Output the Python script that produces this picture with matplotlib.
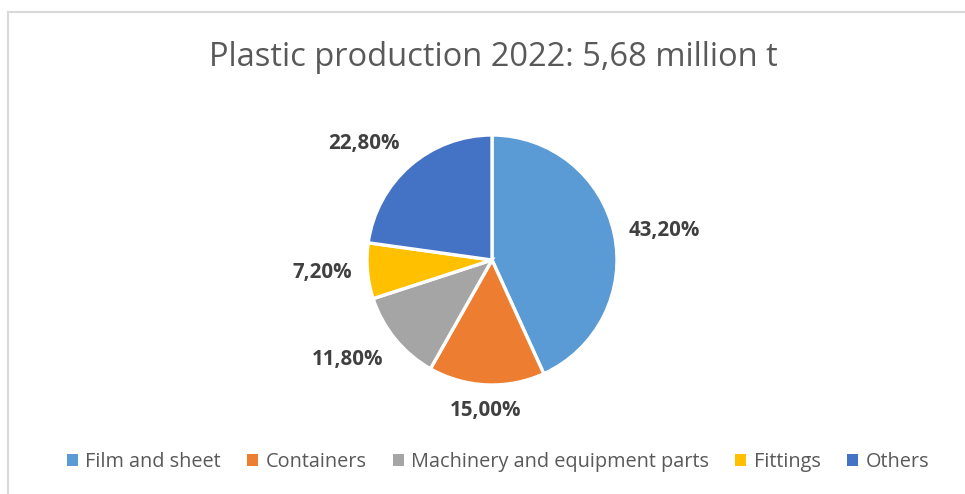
import numpy as np
import matplotlib
matplotlib.use("Agg")
import matplotlib.pyplot as plt
from matplotlib.lines import Line2D
from matplotlib.patches import Rectangle

categories = ["Film and sheet", "Containers", "Machinery and equipment parts", "Fittings", "Others"]
shares = [43.2, 15.0, 11.8, 7.2, 22.8]
value_labels = ["43,20%", "15,00%", "11,80%", "7,20%", "22,80%"]
title = "Plastic production 2022: 5,68 million t"
colors = ["#5B9BD5", "#ED7D31", "#A5A5A5", "#FFC000", "#4472C4"]

FONT = ["Open Sans", "DejaVu Sans"]
W, H = 965, 494
fig = plt.figure(figsize=(W / 100, H / 100), dpi=100)
fig.patch.set_facecolor("white")

# chart border (light gray)
fig.add_artist(Line2D([8 / W, 1], [1 - 12 / H, 1 - 12 / H], color="#D9D9D9", lw=1.5))
fig.add_artist(Line2D([8 / W, 8 / W], [0, 1 - 12 / H], color="#D9D9D9", lw=1.5))

cx, cy, r = 492, 260, 125
ax = fig.add_axes([(cx - r) / W, (H - cy - r) / H, 2 * r / W, 2 * r / H])
ax.axis("off")

wedges, _ = ax.pie(shares, colors=colors, startangle=90, counterclock=False,
                   radius=1, wedgeprops=dict(edgecolor="white", linewidth=2.4))
ax.set_xlim(-1, 1)
ax.set_ylim(-1, 1)
ax.set_aspect("equal")

for w, lab in zip(wedges, value_labels):
    ang = np.deg2rad((w.theta1 + w.theta2) / 2)
    d = 1.12
    x, y = d * np.cos(ang), d * np.sin(ang)
    c, s = np.cos(ang), np.sin(ang)
    ha = "left" if c > 0.3 else ("right" if c < -0.3 else "center")
    va = "bottom" if s > 0.3 else ("top" if s < -0.3 else "center")
    ax.text(x, y, lab, ha=ha, va=va, fontsize=14.8, fontweight="bold",
            color="#404040", family=FONT, clip_on=False)

fig.text(493 / W, 1 - 58 / H, title, ha="center", va="center", fontsize=23.5,
         color="#595959", family=FONT)

handles = [Rectangle((0, 0), 1, 1, facecolor=c, edgecolor="none") for c in colors]
leg = fig.legend(handles, categories, loc="center", bbox_to_anchor=(498 / W, 1 - 462 / H),
                 ncol=5, frameon=False, handlelength=0.55, handleheight=0.55,
                 handletextpad=0.4, columnspacing=1.3,
                 prop={"family": FONT, "size": 14.3})
for t in leg.get_texts():
    t.set_color("#595959")

fig.savefig("out.png", dpi=100, facecolor="white")
